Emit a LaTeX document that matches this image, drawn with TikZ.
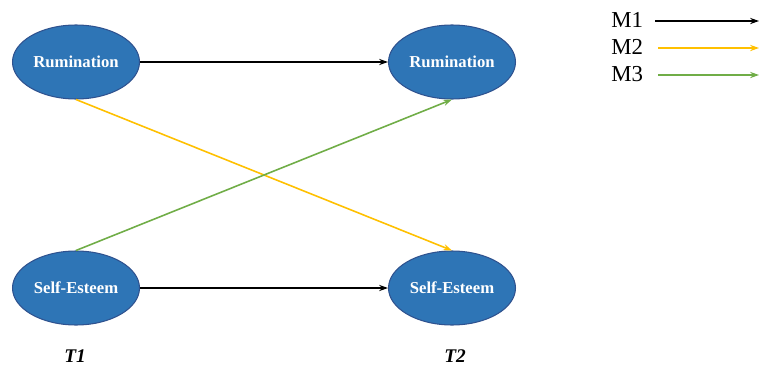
\documentclass[tikz,border=0pt]{standalone}
\usepackage{fontspec}
\setmainfont{Liberation Serif}
\usepackage{tikz}
\usetikzlibrary{arrows.meta,positioning,shapes.geometric}
\definecolor{varblue}{HTML}{2E75B6}
\definecolor{varedge}{HTML}{2F528F}
\definecolor{pathyellow}{HTML}{FFC000}
\definecolor{pathgreen}{HTML}{70AD47}

\begin{document}
\begin{tikzpicture}[
		x=0.02cm, y=-0.02cm,
		>={Stealth[length=5pt,width=3.5pt]},
		var/.style={ellipse, draw=varedge, line width=0.6pt, fill=varblue, text=white, font=\fontsize{9.5}{11}\selectfont\bfseries, minimum width=2.54cm, minimum height=1.48cm, inner sep=0pt},
		wave/.style={font=\fontsize{11}{13}\selectfont\bfseries\itshape},
		legtext/.style={font=\fontsize{13}{15}\selectfont, anchor=west, inner sep=0pt},
		path1/.style={->, line width=0.9pt, black},
		path2/.style={->, line width=0.9pt, pathyellow},
		path3/.style={->, line width=0.9pt, pathgreen}
		]
		\useasboundingbox (0,0) rectangle (760,365);
		
		\node[var] (r1) at (76,62) {Rumination};
		\node[var] (r2) at (452,62) {Rumination};
		\node[var] (e1) at (76,288) {Self-Esteem};
		\node[var] (e2) at (452,288) {Self-Esteem};
		
		\node[wave] (t1) at (75,356) {T1};
		\node[wave] (t2) at (455,356) {T2};
		
		\draw[path1] (r1) -- (r2);
		\draw[path1] (e1) -- (e2);
		\draw[path2] (r1.south) -- (e2.north);
		\draw[path3] (e1.north) -- (r2.south);
		
		% legend
		\node[legtext] (m1) at (611,20) {M1};
		\node[legtext] (m2) at (611,47) {M2};
		\node[legtext] (m3) at (611,74) {M3};
		\coordinate (l1) at (655,21);
		\coordinate (l2) at (658,48);
		\coordinate (l3) at (658,75);
		\coordinate (k1) at (759,21);
		\coordinate (k2) at (759,48);
		\coordinate (k3) at (759,75);
		\draw[path1] (l1) -- (k1);
		\draw[path2] (l2) -- (k2);
		\draw[path3] (l3) -- (k3);
	\end{tikzpicture}
\end{document}
